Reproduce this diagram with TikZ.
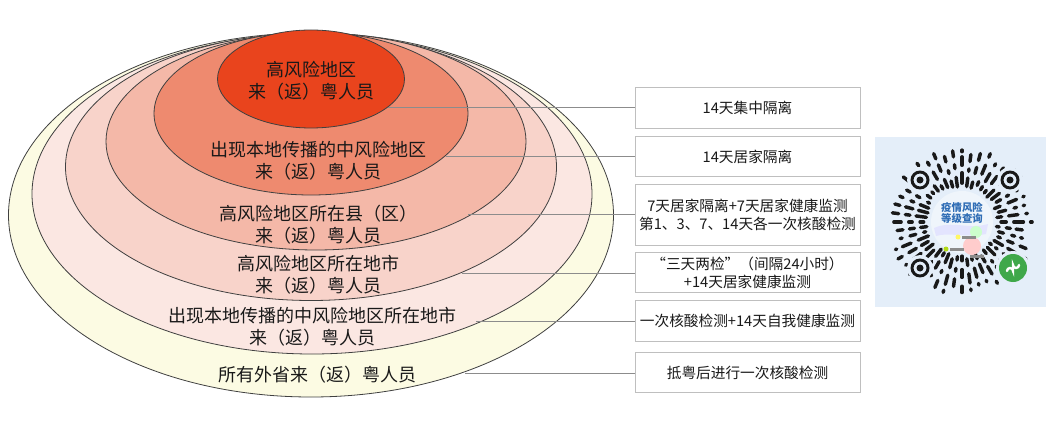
\documentclass[tikz,border=0pt]{standalone}
\usepackage{fontspec}
\newfontfamily\cjk{Noto Sans CJK SC}
\definecolor{ringA}{HTML}{E9441D}
\definecolor{ringB}{HTML}{EE8A6F}
\definecolor{ringC}{HTML}{F4B8A8}
\definecolor{ringD}{HTML}{F8D3CA}
\definecolor{ringE}{HTML}{FBE7E2}
\definecolor{ringF}{HTML}{FCFBE3}
\definecolor{card}{HTML}{E4EEF9}
\definecolor{qrblue}{HTML}{2F6DB5}
\definecolor{qrgreen}{HTML}{3FA84A}
\begin{document}
\begin{tikzpicture}[x=0.75pt,y=-0.75pt,
  ring/.style={draw=black!75, line width=0.6pt},
  zone/.style={font=\cjk\fontsize{13.5}{16.5}\selectfont, align=center, text=black!90},
  rule/.style={draw=black!45, line width=0.7pt},
  plan/.style={draw=black!25, line width=0.6pt, fill=white, inner sep=0pt,
    minimum width=168.75pt, minimum height=30.5pt, align=center,
    font=\cjk\fontsize{11}{13.5}\selectfont, text=black!90},
  qrbar/.style={line width=2.6pt, line cap=round, black!90},
  finder/.style={draw=black!90, line width=2.2pt, fill=card}]
\useasboundingbox (0,0) rectangle (1059,431);
% Draw the rings
\draw[ring, fill=ringF] (311,215) ellipse [x radius=302.5, y radius=182];
\draw[ring, fill=ringE] (312,194) ellipse [x radius=280, y radius=160];
\draw[ring, fill=ringD] (311,167) ellipse [x radius=245.5, y radius=133.5];
\draw[ring, fill=ringC] (316,141.5) ellipse [x radius=210, y radius=108.5];
\draw[ring, fill=ringB] (311,113.5) ellipse [x radius=157, y radius=81.5];
\draw[ring, fill=ringA] (311,79) ellipse [x radius=93.5, y radius=49];
% Define the nodes
\node[zone] (z1) at (311,81) {高风险地区\\来（返）粤人员};
\node[zone] (z2) at (318,161) {出现本地传播的中风险地区\\来（返）粤人员};
\node[zone] (z3) at (318,225) {高风险地区所在县（区）\\来（返）粤人员};
\node[zone] (z4) at (318,275) {高风险地区所在地市\\来（返）粤人员};
\node[zone] (z5) at (312,327) {出现本地传播的中风险地区所在地市\\来（返）粤人员};
\node[zone] (z6) at (317,375) {所有外省来（返）粤人员};
\node[plan] (b1) at (747.5,108) {14天集中隔离};
\node[plan] (b2) at (747.5,156.5) {14天居家隔离};
\node[plan, minimum height=45.75pt] (b3) at (747.5,214.5) {7天居家隔离+7天居家健康监测\\第1、3、7、14天各一次核酸检测};
\node[plan] (b4) at (747.5,272.5) {“三天两检”（间隔24小时）\\+14天居家健康监测};
\node[plan] (b5) at (747.5,321) {一次核酸检测+14天自我健康监测};
\node[plan] (b6) at (747.5,372.5) {抵粤后进行一次核酸检测};
\coordinate (s1) at (388,107);
\coordinate (s2) at (446,156);
\coordinate (s3) at (468,214);
\coordinate (s4) at (462,273);
\coordinate (s5) at (476,321);
\coordinate (s6) at (465,373);
% Draw the paths
\foreach \i in {1,...,6}
  \draw[rule] (s\i) -- (s\i -| b\i.west);
% QR card
\fill[card] (875,137) rectangle (1046,307);
\begin{scope}[shift={(962,222)}]
\pgfmathsetseed{17}
\foreach \a in {0,7.5,...,352.5}{
  \pgfmathsetmacro\ra{34+rnd*6}
  \pgfmathsetmacro\rb{\ra+2+rnd*9}
  \pgfmathsetmacro\rc{\rb+5+rnd*4}
  \pgfmathsetmacro\rd{\rc+2+rnd*8}
  \pgfmathsetmacro\re{\rd+5+rnd*4}
  \pgfmathsetmacro\rf{min(\re+1+rnd*7,74)}
  \draw[qrbar] (\a:\ra) -- (\a:\rb) (\a:\rc) -- (\a:\rd) (\a:\re) -- (\a:\rf);
}
\fill[card!60!white] (0,0) circle [radius=31];
\fill[blue!12, opacity=0.8] (-28,6) .. controls (-10,-2) and (6,8) .. (26,2) -- (24,12) .. controls (4,16) and (-14,10) .. (-26,14) -- cycle;
\fill[red!20] (10,24) circle [radius=9];
\fill[green!20] (14,10) circle [radius=6];
\fill[yellow!60] (-4,15) circle [radius=2.5];
\fill[black!45] (0,13.5) rectangle (14,16.5);
\fill[yellow!70!green] (-16,27) circle [radius=2.5];
\fill[black!45] (-12,25.5) rectangle (2,28.5);
\fill[black!45] (8,32.5) rectangle (22,35.5);
\node[font=\cjk\bfseries\fontsize{7.8}{8.5}\selectfont, text=qrblue, align=center] (qrt) at (0,-9) {疫情风险\\等级查询};
\foreach \p in {(-42,-42),(48,-42),(-42,46)}{
  \fill[card] \p circle [radius=13];
  \draw[finder] \p circle [radius=8];
  \fill[black!90] \p circle [radius=3.5];
}
\fill[card] (51,46) circle [radius=17];
\fill[qrgreen] (51,46) circle [radius=14];
\draw[white, line width=1.8pt, line cap=round] (45,49) arc [start angle=180, end angle=360, radius=3] -- (51,43) arc [start angle=180, end angle=0, radius=3];
\end{scope}
\end{tikzpicture}
\end{document}
